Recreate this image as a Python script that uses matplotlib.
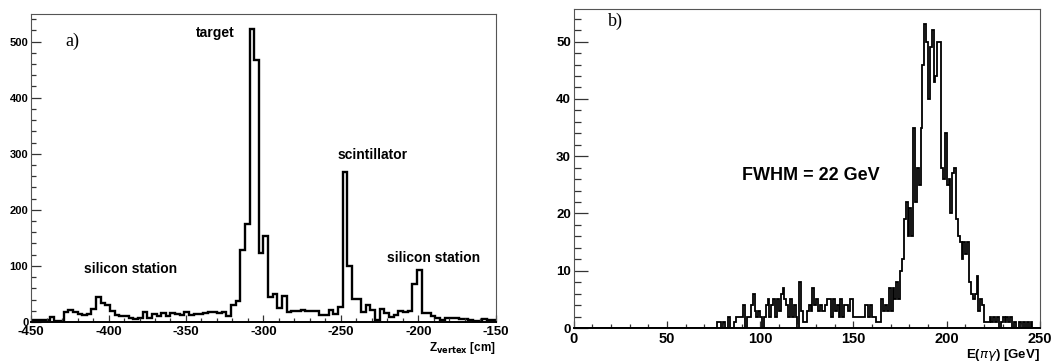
import numpy as np
import matplotlib
matplotlib.use("Agg")
import matplotlib.pyplot as plt

plt.rcParams["axes.unicode_minus"] = False

# panel a): z vertex, 100 bins of 3 cm from -450 to -150
z_range = (-450, -150)
z_counts = [3, 3, 4, 4, 9, 1, 2, 17, 21, 17, 15, 13, 15, 23, 44, 34, 31, 19, 13, 10,
            10, 7, 5, 7, 18, 7, 14, 11, 16, 10, 16, 14, 12, 18, 13, 14, 15, 16, 17, 17,
            16, 18, 11, 31, 37, 129, 174, 523, 467, 123, 153, 44, 49, 25, 46, 17, 20, 20, 21, 20,
            19, 20, 13, 13, 21, 14, 27, 267, 99, 41, 41, 18, 31, 22, 4, 23, 16, 9, 13, 19,
            18, 19, 68, 92, 16, 16, 11, 7, 3, 7, 7, 7, 6, 5, 3, 2, 2, 5, 4, 4]
z_labels = ["target", "scintillator", "silicon station", "silicon station"]
z_label_x = [-331, -229.6, -386, -190.3]
z_label_y = [516, 298, 94, 114]

# panel b): E(pi gamma), 1 GeV bins from 0 to 250, empty below 75 GeV
e_range = (0, 250)
e_first_bin = 75
e_counts = [0, 0, 1, 1, 0, 1, 0, 0, 2, 0, 0, 1, 2, 2, 2, 2, 4, 0, 2, 2,
            4, 6, 3, 2, 3, 2, 0, 2, 4, 5, 2, 4, 5, 2, 5, 3, 6, 7, 5, 4,
            2, 5, 2, 4, 2, 0, 8, 3, 1, 1, 3, 4, 3, 7, 4, 5, 3, 4, 3, 3,
            4, 5, 5, 2, 5, 3, 4, 2, 5, 2, 4, 4, 3, 5, 5, 2, 2, 2, 2, 2,
            2, 4, 4, 2, 4, 2, 2, 1, 1, 1, 5, 3, 4, 3, 7, 3, 7, 5, 8, 5,
            10, 12, 19, 22, 16, 21, 16, 35, 22, 28, 25, 35, 46, 53, 50, 40, 49, 52, 43, 44,
            50, 50, 28, 26, 34, 25, 26, 20, 27, 28, 19, 16, 15, 12, 15, 13, 15, 8, 6, 5,
            6, 9, 3, 5, 4, 1, 1, 1, 2, 1, 2, 1, 2, 0, 1, 2, 1, 2, 1, 2,
            0, 1, 0, 0, 1, 0, 1, 0, 1, 0, 1, 0, 0, 0, 0]

sans = "Liberation Sans"
serif = "Liberation Serif"


def style_axes(ax, xmajor, xminor, ymajor, yminor, ylen, xsize, ysize):
    ax.set_xticks(np.arange(ax.get_xlim()[0], ax.get_xlim()[1] + 1, xmajor))
    ax.set_xticks(np.arange(ax.get_xlim()[0], ax.get_xlim()[1] + 1, xminor), minor=True)
    ax.set_yticks(np.arange(0, ax.get_ylim()[1], ymajor))
    ax.set_yticks(np.arange(0, ax.get_ylim()[1], yminor), minor=True)
    ax.tick_params(which="both", direction="in", top=False, right=False,
                   color="#333333", width=0.9)
    ax.tick_params(axis="x", which="major", length=5, pad=3)
    ax.tick_params(axis="x", which="minor", length=3)
    ax.tick_params(axis="y", which="major", length=ylen, pad=2)
    ax.tick_params(axis="y", which="minor", length=ylen / 2)
    for lab in ax.get_xticklabels():
        lab.set_fontfamily(sans)
        lab.set_fontweight("bold")
        lab.set_fontsize(xsize)
    for lab in ax.get_yticklabels():
        lab.set_fontfamily(sans)
        lab.set_fontweight("bold")
        lab.set_fontsize(ysize)
    for s in ax.spines.values():
        s.set_color("#555555")
        s.set_linewidth(0.8)
    ax.spines["bottom"].set_color("black")
    ax.spines["bottom"].set_linewidth(1.4)


fig = plt.figure(figsize=(10.59, 3.63), dpi=100)

# ---- panel a)
ax1 = fig.add_axes([0.0293, 0.113, 0.439, 0.8485])
z_edges = np.linspace(z_range[0], z_range[1], len(z_counts) + 1)
ax1.stairs(z_counts, z_edges, color="black", linewidth=1.7, baseline=0)
ax1.set_xlim(*z_range)
ax1.set_ylim(0, max(z_counts) * 1.05)
style_axes(ax1, 50, 10, 100, 20, 7, 9.5, 8)
for txt, x, y in zip(z_labels, z_label_x, z_label_y):
    ax1.text(x, y, txt, ha="center", va="center", fontsize=10,
             fontweight="bold", family=sans)
ax1.text(-423.5, 500, "a)", ha="center", va="center", fontsize=13, family=serif)
ax1.text(1.0, -0.083, r"Z$_{\mathbf{vertex}}$ [cm]", transform=ax1.transAxes,
         ha="right", va="center", fontsize=8.5, fontweight="bold", family=sans)

# ---- panel b)
ax2 = fig.add_axes([0.5417, 0.0964, 0.4403, 0.878])
e_vals = np.concatenate([np.zeros(e_first_bin), e_counts])
e_edges = np.linspace(e_range[0], e_range[1], len(e_vals) + 1)
ax2.stairs(e_vals, e_edges, color="black", linewidth=1.3, baseline=0)
ax2.set_xlim(*e_range)
ax2.set_ylim(0, max(e_counts) * 1.05)
style_axes(ax2, 50, 10, 10, 2, 10, 10.5, 9.5)
ax2.text(127, 26.7, "FWHM = 22 GeV", ha="center", va="center", fontsize=13,
         fontweight="bold", family=sans)
ax2.text(22.5, 53.5, "b)", ha="center", va="center", fontsize=13, family=serif)
ax2.text(1.0, -0.085, r"E($\pi\gamma$) [GeV]", transform=ax2.transAxes,
         ha="right", va="center", fontsize=9.5, fontweight="bold", family=sans)

fig.savefig("out.png", dpi=100)
